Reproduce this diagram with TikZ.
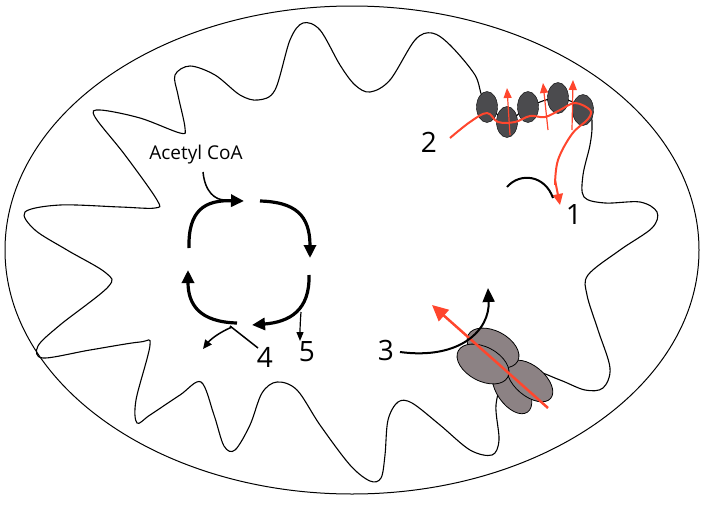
\documentclass[tikz,border=0pt]{standalone}
\usepackage{fontspec}
\setmainfont{Open Sans}
\usetikzlibrary{arrows.meta,shapes.geometric}
\begin{document}
\begin{tikzpicture}[x=1pt,y=-1pt,
  mem/.style={line width=1.1pt,black},
  cyc/.style={line width=3.2pt,black,-{Triangle[length=13pt,width=12pt]}},
  redl/.style={line width=2pt,color={rgb,255:red,255;green,70;blue,45}},
  lab/.style={font=\fontsize{28}{30}\selectfont},
  cplx/.style={fill={rgb,255:red,75;green,75;blue,78},draw=black,line width=0.4pt},
  atp/.style={fill={rgb,255:red,140;green,130;blue,132},draw=black,line width=0.8pt}]
\useasboundingbox (0,0) rectangle (705,504);
\draw[line width=1pt] (352,250) ellipse [x radius=347, y radius=244];
% inner membrane
\draw[mem] plot[smooth cycle, tension=0.55] coordinates {
(25,212)(60,205)(120,207)(155,208)(157,200)(125,155)(95,117)(100,110)(140,118)(180,133)(185,128)(178,95)(175,75)(190,66)(215,75)(240,95)(258,100)(275,90)(290,40)(303,23)(320,30)(340,65)(355,85)(370,92)(390,80)(415,40)(432,33)(450,45)(475,75)(484,100)
(507,120)(528,107)(558,98)(588,110)(592,125)(590,145)(583,175)(584,197)(605,203)(640,202)(657,212)(652,228)(620,250)(588,275)(587,295)(598,330)(610,368)(603,388)(585,390)(560,380)(530,370)(505,380)
(496,405)(499,440)(492,455)(470,450)(440,425)(412,403)(398,402)(388,420)(385,455)(381,478)(370,481)(350,465)(320,425)(297,390)(277,382)(262,393)(250,425)(235,450)(224,446)(214,415)(201,382)(180,395)(150,415)(137,423)(136,400)(150,345)(140,342)(90,350)(43,358)(38,346)(60,325)(108,287)(106,273)(67,250)(35,230)};
% complex 2
\foreach \cx/\cy/\n in {487/107/a,507/122/b,528/107/c,558/98/d,583/110/e}
  \node[cplx,ellipse,minimum width=21pt,minimum height=31pt,inner sep=0pt] (e\n) at (\cx,\cy) {};
\draw[redl] plot[smooth,tension=0.6] coordinates {(450,138)(470,122)(487,113)(498,122)(515,122)(530,116)(545,117)(560,110)(575,103)(590,110)(588,119)(572,134)(558,160)(555,185)};
\draw[redl,-{Triangle[length=11pt,width=10pt]}] (555,180) -- (560,205);
\foreach \a/\b/\c/\d in {510/135/507/88,548/130/543/83,572/130/573/80}
  \draw[redl,line width=1.2pt,-{Triangle[length=10pt,width=8pt]}] (\a,\b) -- (\c,\d);
\draw[line width=2pt] (507,187) .. controls (520,172) and (545,175) .. (553,198);
\node[lab] (n1) at (574,215) {1};
\node[lab] (n2) at (429,142) {2};
% ATP synthase
\draw[atp] (512,390) ellipse [x radius=27, y radius=15, rotate=-55];
\draw[atp] (530,381) ellipse [x radius=27, y radius=15, rotate=-40];
\draw[atp] (493,348) ellipse [x radius=28, y radius=17, rotate=-28];
\draw[atp] (483,364) ellipse [x radius=28, y radius=17, rotate=-28];
\coordinate (r1) at (548,408);
\coordinate (r2) at (432,305);
\draw[redl,line width=2.5pt,-{Triangle[length=16pt,width=15pt]}] (r1) -- (r2);
\draw[line width=2pt,-{Triangle[length=14pt,width=12pt]}] (400,352) .. controls (460,360) and (490,330) .. (488,288);
\node[lab] (n3) at (386,350) {3};
% cycle
\node[font=\fontsize{19}{21}\selectfont] (acoa) at (196,155) {Acetyl CoA};
\draw[cyc] (189,248) .. controls (188,210) and (205,200) .. (244,201);
\draw[cyc] (260,201) .. controls (295,202) and (310,215) .. (310,258);
\draw[cyc] (309,275) .. controls (310,310) and (290,322) .. (252,325);
\draw[cyc] (237,323) .. controls (200,322) and (188,305) .. (188,270);
\draw[line width=1.5pt] (203,172) .. controls (205,192) and (215,200) .. (225,200);
\draw[line width=1.5pt] (258,348) -- (230,326);
\draw[line width=1.5pt,-{Triangle[length=9pt,width=8pt]}] (232,327) .. controls (218,333) and (210,340) .. (203,349);
\draw[line width=1.2pt,-{Triangle[length=9pt,width=7pt]}] (301,312) .. controls (300,325) and (300,332) .. (300,341);
\node[lab] (n4) at (265,357) {4};
\node[lab] (n5) at (307,352) {5};
\end{tikzpicture}
\end{document}
